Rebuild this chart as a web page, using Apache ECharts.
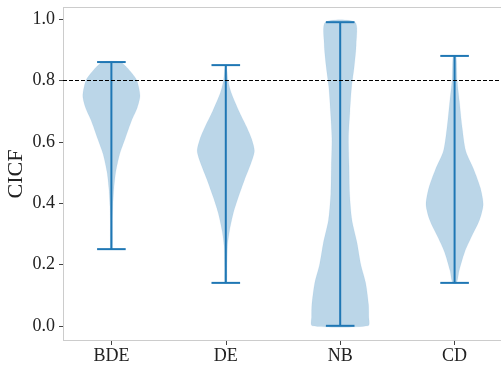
<!DOCTYPE html>
<html>
<head>
<meta charset="utf-8">
<script src="https://cdn.jsdelivr.net/npm/echarts@6/dist/echarts.min.js"></script>
<style>
  html, body { margin: 0; padding: 0; background: #fff; overflow: hidden; }
  #chart { width: 501px; height: 367px; }
</style>
</head>
<body>
<div id="chart"></div>
<script>
// Categories and the range (extrema) of each distribution
const categories = ['BDE', 'DE', 'NB', 'CD'];
const minValues = [0.25, 0.14, 0.00, 0.14];
const maxValues = [0.86, 0.85, 0.99, 0.88];

// Kernel density profiles: sample heights and relative half-widths (1 = widest)
const bdeLevels  = [0.25, 0.34, 0.39, 0.45, 0.50, 0.56, 0.61, 0.67, 0.71, 0.75, 0.80, 0.83, 0.86];
const bdeDensity = [0.03, 0.035, 0.05, 0.09, 0.15, 0.29, 0.48, 0.71, 0.90, 1.00, 0.89, 0.66, 0.31];

const deLevels  = [0.14, 0.19, 0.26, 0.31, 0.37, 0.42, 0.475, 0.53, 0.57, 0.61, 0.65, 0.70, 0.76, 0.80, 0.85];
const deDensity = [0.035, 0.043, 0.06, 0.13, 0.27, 0.44, 0.65, 0.88, 1.00, 0.90, 0.72, 0.46, 0.19, 0.08, 0.02];

const nbLevels  = [0.00, 0.03, 0.07, 0.14, 0.20, 0.27, 0.345, 0.43, 0.52, 0.61, 0.70, 0.78, 0.845, 0.92, 0.99];
const nbDensity = [0.98, 1.00, 0.99, 0.89, 0.72, 0.59, 0.41, 0.33, 0.31, 0.29, 0.34, 0.40, 0.49, 0.56, 0.52];

const cdLevels  = [0.14, 0.18, 0.24, 0.29, 0.345, 0.395, 0.45, 0.51, 0.57, 0.65, 0.73, 0.80, 0.88];
const cdDensity = [0.07, 0.16, 0.35, 0.59, 0.87, 1.00, 0.90, 0.67, 0.39, 0.26, 0.17, 0.09, 0.05];

const yTicks = [0.0, 0.2, 0.4, 0.6, 0.8, 1.0];
const yTitle = 'CICF';
const threshold = 0.8;

const profiles = [
  { levels: bdeLevels, density: bdeDensity },
  { levels: deLevels,  density: deDensity },
  { levels: nbLevels,  density: nbDensity },
  { levels: cdLevels,  density: cdDensity }
];

const HALF_WIDTH = 0.25;   // half of the violin width in x units
const CAP_HALF = 0.125;    // half length of the extrema caps
const BLUE = '#1f77b4';
const SPINE = '#cccccc';
const PX_PER_UNIT = 114.4;
const GRID_LEFT = 63, GRID_TOP = 7, GRID_BOTTOM = 26;
const X_MIN = 0.577;
const X_MAX = X_MIN + (501 - GRID_LEFT) / PX_PER_UNIT;

const chart = echarts.init(document.getElementById('chart'), null, { renderer: 'canvas' });

function renderViolin(params, api) {
  const i = params.dataIndex;
  const x = api.value(0);
  const p = profiles[i];
  const right = p.levels.map((v, k) => api.coord([x + HALF_WIDTH * p.density[k], v]));
  const left = p.levels.map((v, k) => api.coord([x - HALF_WIDTH * p.density[k], v])).reverse();
  const lo = api.coord([x, minValues[i]]);
  const hi = api.coord([x, maxValues[i]]);
  const cl = api.coord([x - CAP_HALF, 0])[0];
  const cr = api.coord([x + CAP_HALF, 0])[0];
  return {
    type: 'group',
    children: [
      { type: 'polygon', shape: { points: right.concat(left), smooth: 0.25 },
        style: { fill: 'rgba(31,119,180,0.3)', stroke: 'rgba(31,119,180,0.12)', lineWidth: 0.5 } },
      { type: 'line', shape: { x1: lo[0], y1: lo[1], x2: hi[0], y2: hi[1] },
        style: { stroke: BLUE, lineWidth: 2 } },
      { type: 'line', shape: { x1: cl, y1: lo[1], x2: cr, y2: lo[1] },
        style: { stroke: BLUE, lineWidth: 2 } },
      { type: 'line', shape: { x1: cl, y1: hi[1], x2: cr, y2: hi[1] },
        style: { stroke: BLUE, lineWidth: 2 } }
    ]
  };
}

const font = 'Liberation Serif';
const xPositions = categories.map((c, i) => i + 1);

chart.setOption({
  animation: false,
  backgroundColor: '#fff',
  grid: {
    left: GRID_LEFT, top: GRID_TOP, right: 0, bottom: GRID_BOTTOM,
    containLabel: false,
    outerBoundsMode: 'none'
  },
  xAxis: {
    type: 'value',
    min: X_MIN,
    max: X_MAX,
    splitLine: { show: false },
    axisLine: { show: false, onZero: false },
    axisTick: { show: true, customValues: xPositions, length: 4, lineStyle: { color: '#444' } },
    axisLabel: {
      customValues: xPositions,
      formatter: v => categories[Math.round(v) - 1],
      fontFamily: font, fontSize: 18, color: '#222', margin: 6
    }
  },
  yAxis: {
    type: 'value',
    min: -0.0495,
    max: 1.0395,
    splitLine: { show: false },
    axisLine: { show: false, onZero: false },
    axisTick: { show: true, customValues: yTicks, length: 4, lineStyle: { color: '#444' } },
    axisLabel: {
      customValues: yTicks,
      formatter: v => v.toFixed(1),
      fontFamily: font, fontSize: 18, color: '#222', margin: 8
    }
  },
  series: [{
    type: 'custom',
    renderItem: renderViolin,
    clip: false,
    data: xPositions.map((x, i) => [x, maxValues[i]]),
    z: 2
  }]
});

// Frame (left, top, bottom spines), the dashed reference line and the y title
const yRef = chart.convertToPixel({ yAxisIndex: 0 }, threshold);
const yBottom = 367 - GRID_BOTTOM;
chart.setOption({
  graphic: [
    { type: 'line', silent: true, z: 1,
      shape: { x1: GRID_LEFT + 0.5, y1: GRID_TOP, x2: GRID_LEFT + 0.5, y2: yBottom },
      style: { stroke: SPINE, lineWidth: 1 } },
    { type: 'line', silent: true, z: 1,
      shape: { x1: GRID_LEFT, y1: GRID_TOP + 0.5, x2: 501, y2: GRID_TOP + 0.5 },
      style: { stroke: SPINE, lineWidth: 1 } },
    { type: 'line', silent: true, z: 1,
      shape: { x1: GRID_LEFT, y1: yBottom - 0.5, x2: 501, y2: yBottom - 0.5 },
      style: { stroke: SPINE, lineWidth: 1 } },
    { type: 'line', silent: true, z: 100,
      shape: { x1: GRID_LEFT, y1: Math.round(yRef) + 0.5, x2: 501, y2: Math.round(yRef) + 0.5 },
      style: { stroke: '#000', lineWidth: 1, lineDash: [4, 2] } },
    { type: 'text', silent: true, z: 100,
      x: 16, y: (GRID_TOP + yBottom) / 2, rotation: Math.PI / 2,
      style: { text: yTitle, align: 'center', verticalAlign: 'middle',
               font: '22px "Liberation Serif"', fill: '#222' } }
  ]
});
</script>
</body>
</html>
